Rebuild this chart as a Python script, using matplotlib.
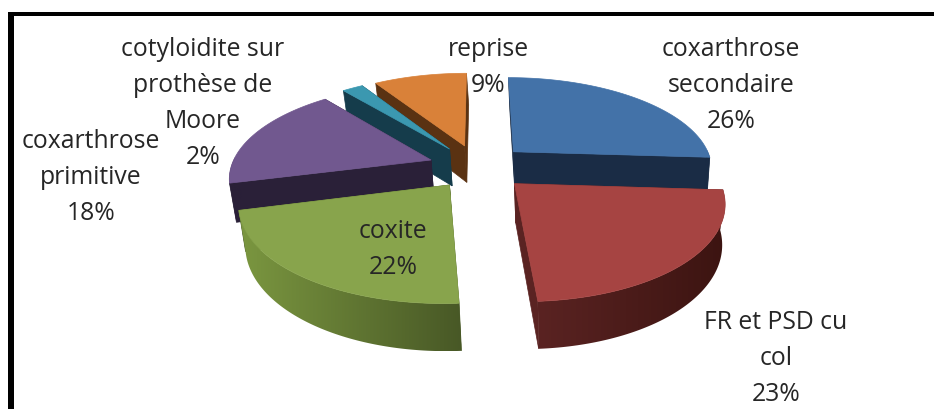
#!/usr/bin/env python3
"""Exploded 3D-look pie of indications, drawn with polygons in pixel-like axes."""
import numpy as np
import matplotlib
matplotlib.use("Agg")
import matplotlib.pyplot as plt
from matplotlib.colors import LinearSegmentedColormap
from matplotlib.patches import Polygon, Rectangle

plt.rcParams["font.family"] = ["Open Sans", "DejaVu Sans"]

labels = ["coxarthrose\nsecondaire", "FR et PSD cu\ncol", "coxite",
          "coxarthrose\nprimitive", "cotyloidite sur\nprothèse de\nMoore", "reprise"]
values = [26, 23, 22, 18, 2, 9]

top_colors = ["#4372a8", "#a64442", "#88a44c", "#71588f", "#3b98b0", "#d98139"]
wall_colors = ["#1a2c45", "#5a2322", "#7b9740", "#2a2038", "#153c4b", "#5a3212"]
wall_ends = ["#1a2c45", "#3c1411", "#485826", "#2a2038", "#153c4b", "#5a3212"]
label_xy = [(731, 82), (776, 356), (393, 247), (91, 175), (203, 101), (488, 64)]
explode = [0.25, 0.25, 0.235, 0.25, 0.25, 0.25]
draw_order = [5, 4, 0, 3, 1, 2]  # back to front

CX, CY, R, RT, K = 478, 168, 200, 91.5, 0.17
DEPTH = 38
VANISH_X, SHRINK = 577, 0.98  # bottom face is a little narrower than the top
LINE_H, BASE_OFF = 36, 9.5


def project(u, v, drop=0.0):
    s = 1 / (1 + K * v)
    x = CX + R * u * s
    if drop:
        x = VANISH_X + (x - VANISH_X) * SHRINK
    return x, CY - RT * v * s + drop * DEPTH * s


def side_pts(u, v):
    x0, y0 = project(u, v)
    x1, y1 = project(u, v, 1)
    return np.r_[np.c_[x0, y0], np.c_[x1, y1][::-1]]


def main():
    fig = plt.figure(figsize=(9.34, 4.10), dpi=100)
    ax = fig.add_axes([0, 0, 1, 1])

    edges = np.r_[0, np.cumsum(values)] / np.sum(values) * 2 * np.pi
    for i in draw_order:
        a = np.linspace(edges[i], edges[i + 1], 90)
        mid = (edges[i] + edges[i + 1]) / 2
        ou, ov = explode[i] * np.sin(mid), explode[i] * np.cos(mid)
        u, v = ou + np.sin(a), ov + np.cos(a)
        # radial walls: the one further back first
        for t in sorted([a[0], a[-1]], key=lambda t: -np.cos(t)):
            pts = side_pts(np.array([ou, ou + np.sin(t)]), np.array([ov, ov + np.cos(t)]))
            col = wall_ends[i] if i == 2 else wall_colors[i]
            ax.add_patch(Polygon(pts, fc=col, ec=col, lw=0.5))
        # rim, darker towards the right
        front = np.cos(a) < 0.03
        if front.sum() > 1:
            pts = side_pts(u[front], v[front])
            rim = Polygon(pts, fc="none", ec="none")
            ax.add_patch(rim)
            cmap = LinearSegmentedColormap.from_list("rim", [wall_colors[i], wall_ends[i]])
            im = ax.imshow(np.linspace(0, 1, 256)[None, :], cmap=cmap, aspect="auto",
                           extent=(pts[:, 0].min(), pts[:, 0].max(), pts[:, 1].max(), pts[:, 1].min()),
                           zorder=1)
            im.set_clip_path(rim)
        # top face
        x, y = project(np.r_[ou, u], np.r_[ov, v])
        ax.add_patch(Polygon(np.c_[x, y], fc=top_colors[i], ec=top_colors[i], lw=0.5, zorder=1))

    ax.set_xlim(0, 934), ax.set_ylim(410, 0)
    ax.axis("off")

    # frame: the right and bottom sides fall outside the picture
    ax.add_patch(Rectangle((8, 13), 926, 4, fc="black", ec="none", zorder=3))
    ax.add_patch(Rectangle((8, 13), 6, 397, fc="black", ec="none", zorder=3))

    for name, val, (tx, ty) in zip(labels, values, label_xy):
        lines = name.split("\n") + [f"{val}%"]
        for k, line in enumerate(lines):
            ty_k = ty + (k - (len(lines) - 1) / 2) * LINE_H + BASE_OFF
            ax.text(tx, ty_k, line, ha="center", va="baseline", fontsize=17.8,
                    color="#262626", zorder=4)
    fig.savefig("out.png", dpi=100)


if __name__ == "__main__":
    main()
